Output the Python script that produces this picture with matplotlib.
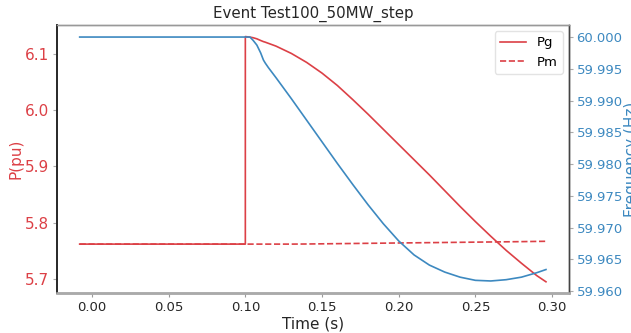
import matplotlib
matplotlib.use("Agg")
import matplotlib.pyplot as plt
from matplotlib.ticker import MultipleLocator, FormatStrFormatter

# ---- data ----
time = [-0.008, 0.1, 0.1, 0.103, 0.105, 0.1075, 0.11, 0.1118, 0.113, 0.115,
        0.12, 0.13, 0.14, 0.15, 0.16, 0.17, 0.18, 0.19, 0.20, 0.21, 0.22,
        0.23, 0.24, 0.25, 0.26, 0.27, 0.28, 0.29, 0.296]
pg = [5.762, 5.762, 6.131, 6.130, 6.129, 6.127, 6.124, 6.122, 6.121, 6.119,
      6.114, 6.101, 6.085, 6.066, 6.044, 6.019, 5.993, 5.966, 5.939, 5.912, 5.885,
      5.857, 5.829, 5.802, 5.776, 5.751, 5.728, 5.706, 5.695]
pm = [5.762, 5.762, 5.762, 5.762, 5.762, 5.762, 5.762, 5.762, 5.762, 5.762,
      5.762, 5.762, 5.7622, 5.7625, 5.7628, 5.7631, 5.7634, 5.7637, 5.764, 5.7643, 5.7646,
      5.7649, 5.7652, 5.7655, 5.7658, 5.7661, 5.7664, 5.7668, 5.767]
freq = [60.0, 60.0, 60.0, 60.0, 59.9995, 59.99874, 59.9975, 59.99638, 59.9959, 59.9952,
        59.9936, 59.9903, 59.9869, 59.9835, 59.9801, 59.9768, 59.9736, 59.9706, 59.9679,
        59.9657, 59.9641, 59.9630, 59.9622, 59.9617, 59.9616, 59.9618, 59.9622, 59.9629, 59.9634]

title = "Event Test100_50MW_step"
xlabel = "Time (s)"
ylabel_left = "P(pu)"
ylabel_right = "Frequency (Hz)"

red = "#dc4046"
blue = "#3d89c0"

fig = plt.figure(figsize=(6.31, 3.33), dpi=100)
ax1 = fig.add_axes([0.0903, 0.120, 0.8114, 0.805])
ax2 = ax1.twinx()

ax1.plot(time, pg, color=red, lw=1.2, label="Pg")
ax1.plot(time, pm, color=red, lw=1.2, ls="--", label="Pm")
ax2.plot(time, freq, color=blue, lw=1.2)

ax1.set_xlim(-0.0228, 0.311)
ax1.set_ylim(5.675, 6.1516)
ax2.set_ylim(59.9597, 60.0019)

ax1.xaxis.set_major_locator(MultipleLocator(0.05))
ax1.xaxis.set_major_formatter(FormatStrFormatter("%.2f"))
ax1.yaxis.set_major_locator(MultipleLocator(0.1))
ax1.yaxis.set_major_formatter(FormatStrFormatter("%.1f"))
ax2.yaxis.set_major_locator(MultipleLocator(0.005))
ax2.yaxis.set_major_formatter(FormatStrFormatter("%.3f"))

ax1.tick_params(axis="x", labelsize=9.5, colors="#999999", labelcolor="#262626", length=3, pad=3)
ax1.tick_params(axis="y", labelsize=11, colors="#aaaaaa", labelcolor=red, length=3, pad=2.5)
ax2.tick_params(axis="y", labelsize=9.5, colors="#aaaaaa", labelcolor=blue, length=3, pad=2.5)

ax1.set_title(title, fontsize=10.8, color="#262626", pad=5)
ax1.set_xlabel(xlabel, fontsize=11, color="#262626", labelpad=1.5)
ax1.set_ylabel(ylabel_left, fontsize=11, color=red, labelpad=1)
ax2.set_ylabel(ylabel_right, fontsize=11, color=blue, labelpad=0.5)

for ax in (ax1, ax2):
    ax.spines["left"].set_color("#262626")
    ax.spines["left"].set_linewidth(1.2)
    ax.spines["right"].set_color("#444444")
    ax.spines["right"].set_linewidth(1.0)
    ax.spines["top"].set_color("#999999")
    ax.spines["top"].set_linewidth(1.0)
    ax.spines["bottom"].set_color("#aaaaaa")
    ax.spines["bottom"].set_linewidth(1.8)

leg = ax1.legend(loc="upper right", fontsize=9.5, framealpha=0.8, edgecolor="#dddddd",
                 borderaxespad=0.45)

fig.savefig("out.png", dpi=100)
